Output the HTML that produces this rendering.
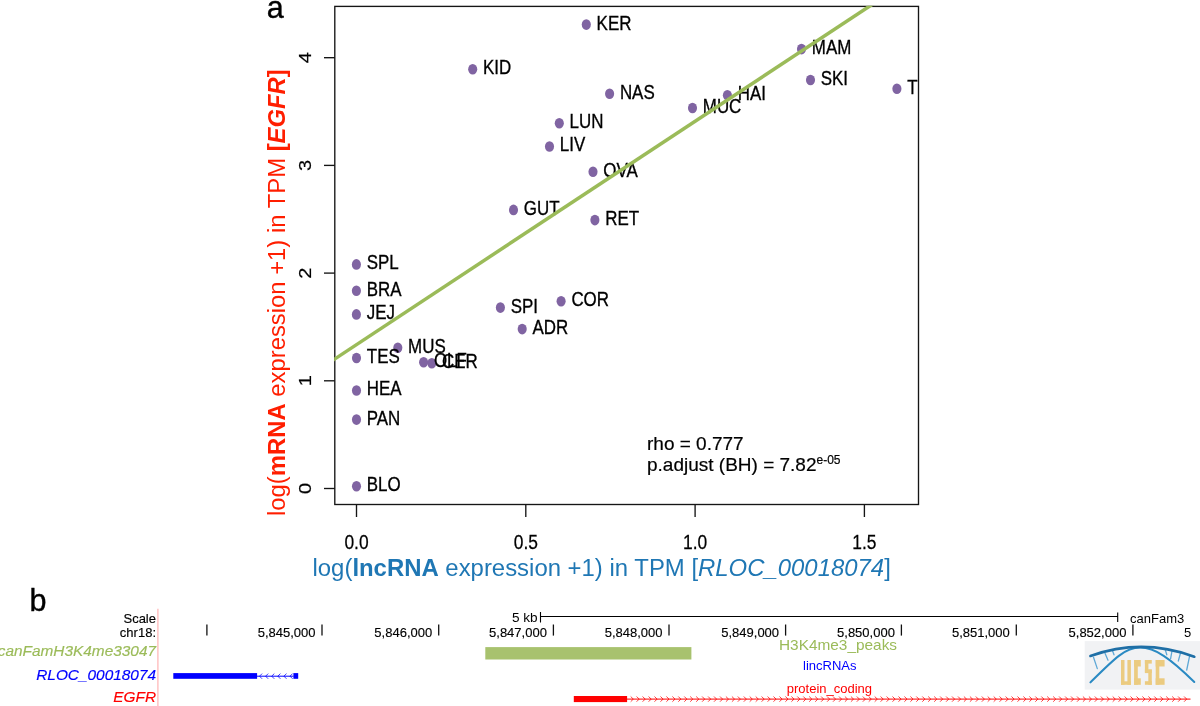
<!DOCTYPE html><html><head><meta charset="utf-8"><style>html,body{margin:0;padding:0;background:#fff;width:1200px;height:706px;overflow:hidden}svg{position:absolute;left:0;top:0;will-change:transform}</style></head><body>
<svg width="1200" height="706" viewBox="0 0 1200 706" font-family="Liberation Sans, sans-serif">
<defs><clipPath id="pc"><rect x="334.8" y="6.4" width="583.7" height="498.1"/></clipPath></defs>
<defs><clipPath id="pc2"><rect x="334.2" y="5.7" width="585" height="499.5"/></clipPath></defs>
<text x="266.8" y="17.6" font-size="30.5" stroke="#000" stroke-width="0.4">a</text>
<rect x="334.8" y="6.4" width="583.7" height="498.1" fill="none" stroke="#151515" stroke-width="1.35"/>
<line x1="324" y1="488.5" x2="334.8" y2="488.5" stroke="#151515" stroke-width="1.35"/>
<text transform="translate(310.6,488.5) scale(0.87,1) rotate(-90)" text-anchor="middle" font-size="20" stroke="#000" stroke-width="0.25">0</text>
<line x1="324" y1="380.8" x2="334.8" y2="380.8" stroke="#151515" stroke-width="1.35"/>
<text transform="translate(310.6,380.8) scale(0.87,1) rotate(-90)" text-anchor="middle" font-size="20" stroke="#000" stroke-width="0.25">1</text>
<line x1="324" y1="273.1" x2="334.8" y2="273.1" stroke="#151515" stroke-width="1.35"/>
<text transform="translate(310.6,273.1) scale(0.87,1) rotate(-90)" text-anchor="middle" font-size="20" stroke="#000" stroke-width="0.25">2</text>
<line x1="324" y1="165.4" x2="334.8" y2="165.4" stroke="#151515" stroke-width="1.35"/>
<text transform="translate(310.6,165.4) scale(0.87,1) rotate(-90)" text-anchor="middle" font-size="20" stroke="#000" stroke-width="0.25">3</text>
<line x1="324" y1="57.7" x2="334.8" y2="57.7" stroke="#151515" stroke-width="1.35"/>
<text transform="translate(310.6,57.7) scale(0.87,1) rotate(-90)" text-anchor="middle" font-size="20" stroke="#000" stroke-width="0.25">4</text>
<line x1="356.5" y1="504.5" x2="356.5" y2="517" stroke="#151515" stroke-width="1.35"/>
<text transform="translate(356.5,549.1) scale(0.87,1)" text-anchor="middle" font-size="20" stroke="#000" stroke-width="0.25">0.0</text>
<line x1="525.8" y1="504.5" x2="525.8" y2="517" stroke="#151515" stroke-width="1.35"/>
<text transform="translate(525.8,549.1) scale(0.87,1)" text-anchor="middle" font-size="20" stroke="#000" stroke-width="0.25">0.5</text>
<line x1="695.1" y1="504.5" x2="695.1" y2="517" stroke="#151515" stroke-width="1.35"/>
<text transform="translate(695.1,549.1) scale(0.87,1)" text-anchor="middle" font-size="20" stroke="#000" stroke-width="0.25">1.0</text>
<line x1="864.4" y1="504.5" x2="864.4" y2="517" stroke="#151515" stroke-width="1.35"/>
<text transform="translate(864.4,549.1) scale(0.87,1)" text-anchor="middle" font-size="20" stroke="#000" stroke-width="0.25">1.5</text>
<g fill="#8064a2">
<ellipse cx="586.3" cy="24.6" rx="4.55" ry="5.3"/>
<ellipse cx="472.7" cy="69.2" rx="4.55" ry="5.3"/>
<ellipse cx="609.6" cy="93.8" rx="4.55" ry="5.3"/>
<ellipse cx="559.3" cy="123.2" rx="4.55" ry="5.3"/>
<ellipse cx="549.5" cy="146.5" rx="4.55" ry="5.3"/>
<ellipse cx="593.0" cy="171.7" rx="4.55" ry="5.3"/>
<ellipse cx="513.5" cy="209.9" rx="4.55" ry="5.3"/>
<ellipse cx="594.9" cy="220.1" rx="4.55" ry="5.3"/>
<ellipse cx="801.5" cy="49.1" rx="4.55" ry="5.3"/>
<ellipse cx="810.5" cy="80.0" rx="4.55" ry="5.3"/>
<ellipse cx="727.4" cy="95.2" rx="4.55" ry="5.3"/>
<ellipse cx="692.5" cy="108.0" rx="4.55" ry="5.3"/>
<ellipse cx="896.9" cy="88.7" rx="4.55" ry="5.3"/>
<ellipse cx="356.4" cy="264.4" rx="4.55" ry="5.3"/>
<ellipse cx="356.4" cy="290.8" rx="4.55" ry="5.3"/>
<ellipse cx="356.4" cy="314.4" rx="4.55" ry="5.3"/>
<ellipse cx="500.4" cy="307.6" rx="4.55" ry="5.3"/>
<ellipse cx="561.1" cy="301.2" rx="4.55" ry="5.3"/>
<ellipse cx="522.2" cy="329.1" rx="4.55" ry="5.3"/>
<ellipse cx="397.8" cy="347.7" rx="4.55" ry="5.3"/>
<ellipse cx="356.5" cy="358.0" rx="4.55" ry="5.3"/>
<ellipse cx="423.6" cy="362.3" rx="4.55" ry="5.3"/>
<ellipse cx="431.8" cy="363.3" rx="4.55" ry="5.3"/>
<ellipse cx="356.5" cy="390.5" rx="4.55" ry="5.3"/>
<ellipse cx="356.5" cy="419.6" rx="4.55" ry="5.3"/>
<ellipse cx="356.5" cy="486.2" rx="4.55" ry="5.3"/>
</g>
<g clip-path="url(#pc)" font-size="20.4" stroke="#000" stroke-width="0.35">
<text transform="translate(596.6,29.5) scale(0.830,1)">KER</text>
<text transform="translate(483.0,74.1) scale(0.830,1)">KID</text>
<text transform="translate(619.9,98.7) scale(0.830,1)">NAS</text>
<text transform="translate(569.6,128.1) scale(0.830,1)">LUN</text>
<text transform="translate(559.8,151.4) scale(0.830,1)">LIV</text>
<text transform="translate(603.3,176.6) scale(0.830,1)">OVA</text>
<text transform="translate(523.8,214.8) scale(0.830,1)">GUT</text>
<text transform="translate(605.2,225.0) scale(0.830,1)">RET</text>
<text transform="translate(811.8,54.0) scale(0.830,1)">MAM</text>
<text transform="translate(820.8,84.9) scale(0.830,1)">SKI</text>
<text transform="translate(737.7,100.1) scale(0.830,1)">HAI</text>
<text transform="translate(702.8,112.9) scale(0.830,1)">MUC</text>
<text transform="translate(907.2,93.6) scale(0.830,1)">T</text>
<text transform="translate(366.7,269.3) scale(0.830,1)">SPL</text>
<text transform="translate(366.7,295.7) scale(0.830,1)">BRA</text>
<text transform="translate(366.7,319.3) scale(0.830,1)">JEJ</text>
<text transform="translate(510.7,312.5) scale(0.830,1)">SPI</text>
<text transform="translate(571.4,306.1) scale(0.830,1)">COR</text>
<text transform="translate(532.5,334.0) scale(0.830,1)">ADR</text>
<text transform="translate(408.1,352.6) scale(0.830,1)">MUS</text>
<text transform="translate(366.8,362.9) scale(0.830,1)">TES</text>
<text transform="translate(433.9,367.2) scale(0.830,1)">OLF</text>
<text transform="translate(442.1,368.2) scale(0.830,1)">CER</text>
<text transform="translate(366.8,395.4) scale(0.830,1)">HEA</text>
<text transform="translate(366.8,424.5) scale(0.830,1)">PAN</text>
<text transform="translate(366.8,491.1) scale(0.830,1)">BLO</text>
</g>
<line x1="330" y1="362.13" x2="875" y2="2.6" stroke="#9bbb59" stroke-width="3.5" clip-path="url(#pc2)"/>
<text x="647" y="449.5" font-size="19" stroke="#000" stroke-width="0.2">rho = 0.777</text>
<text x="647" y="471.4" font-size="19" stroke="#000" stroke-width="0.2">p.adjust (BH) = 7.82<tspan font-size="12" dy="-7">e-05</tspan></text>
<text x="312.5" y="575.9" font-size="23.92" fill="#1f77b4">log(<tspan font-weight="bold">lncRNA</tspan> expression +1) in TPM [<tspan font-style="italic">RLOC_00018074</tspan>]</text>
<text transform="translate(285,516) rotate(-90)" font-size="23.85" fill="#ff1e00">log(<tspan font-weight="bold">mRNA</tspan> expression +1) in TPM <tspan font-weight="bold">[<tspan font-style="italic">EGFR</tspan>]</tspan></text>
<text x="29.4" y="611.4" font-size="30.5" stroke="#000" stroke-width="0.4">b</text>
<line x1="157.9" y1="608.7" x2="157.9" y2="706" stroke="#ffb8b8" stroke-width="1.3"/>
<g font-size="13" text-anchor="end" stroke-width="0.15">
<text x="156" y="623" stroke="#000">Scale</text><text x="156" y="636.5" stroke="#000">chr18:</text>
<text transform="translate(156,655.7) scale(1.1,1)" font-size="14" font-style="italic" fill="#9bbb59" stroke="#9bbb59">canFamH3K4me33047</text>
<text transform="translate(156,680.3) scale(1.1,1)" font-size="14" font-style="italic" fill="#0000ff" stroke="#0000ff">RLOC_00018074</text>
<text transform="translate(156,702.2) scale(1.1,1)" font-size="14" font-style="italic" fill="#ff0000" stroke="#ff0000">EGFR</text>
</g>
<text x="537.6" y="622.3" font-size="13.6" text-anchor="end">5 kb</text>
<path d="M540.5 612V622.5M540.5 616.5H1117.7M1117.7 612.5V622" stroke="#000" stroke-width="1.1" fill="none"/>
<text x="1130" y="622.8" font-size="13">canFam3</text>
<line x1="206.9" y1="624.5" x2="206.9" y2="635.6" stroke="#111" stroke-width="1.3"/>
<line x1="322.0" y1="624.5" x2="322.0" y2="635.6" stroke="#111" stroke-width="1.3"/>
<text x="315.5" y="636.7" font-size="13" text-anchor="end" stroke="#000" stroke-width="0.15">5,845,000</text>
<line x1="438.7" y1="624.5" x2="438.7" y2="635.6" stroke="#111" stroke-width="1.3"/>
<text x="432.2" y="636.7" font-size="13" text-anchor="end" stroke="#000" stroke-width="0.15">5,846,000</text>
<line x1="553.4" y1="624.5" x2="553.4" y2="635.6" stroke="#111" stroke-width="1.3"/>
<text x="546.9" y="636.7" font-size="13" text-anchor="end" stroke="#000" stroke-width="0.15">5,847,000</text>
<line x1="669.0" y1="624.5" x2="669.0" y2="635.6" stroke="#111" stroke-width="1.3"/>
<text x="662.5" y="636.7" font-size="13" text-anchor="end" stroke="#000" stroke-width="0.15">5,848,000</text>
<line x1="785.6" y1="624.5" x2="785.6" y2="635.6" stroke="#111" stroke-width="1.3"/>
<text x="779.1" y="636.7" font-size="13" text-anchor="end" stroke="#000" stroke-width="0.15">5,849,000</text>
<line x1="901.4" y1="624.5" x2="901.4" y2="635.6" stroke="#111" stroke-width="1.3"/>
<text x="894.9" y="636.7" font-size="13" text-anchor="end" stroke="#000" stroke-width="0.15">5,850,000</text>
<line x1="1016.3" y1="624.5" x2="1016.3" y2="635.6" stroke="#111" stroke-width="1.3"/>
<text x="1009.8" y="636.7" font-size="13" text-anchor="end" stroke="#000" stroke-width="0.15">5,851,000</text>
<line x1="1132.9" y1="624.5" x2="1132.9" y2="635.6" stroke="#111" stroke-width="1.3"/>
<text x="1126.4" y="636.7" font-size="13" text-anchor="end" stroke="#000" stroke-width="0.15">5,852,000</text>
<text x="1184" y="636.7" font-size="13">5</text>
<rect x="485.3" y="647.1" width="206.1" height="12.4" fill="#a8c26e"/>
<text transform="translate(779,650) scale(1.1,1)" font-size="14" fill="#9bbb59">H3K4me3_peaks</text>
<text x="803" y="670" font-size="13" fill="#0000ff">lincRNAs</text>
<text x="786.8" y="693.4" font-size="13" fill="#ff0000">protein_coding</text>
<rect x="173.3" y="673.1" width="83.8" height="5.7" fill="#0000ff"/>
<rect x="293.4" y="673.1" width="4.8" height="5.7" fill="#0000ff"/>
<line x1="257" y1="676.2" x2="293.5" y2="676.2" stroke="#0000ff" stroke-width="1"/>
<path d="M262.1 673.6L259.5 676.2L262.1 678.8M268.2 673.6L265.6 676.2L268.2 678.8M274.3 673.6L271.7 676.2L274.3 678.8M280.4 673.6L277.8 676.2L280.4 678.8M286.5 673.6L283.9 676.2L286.5 678.8M292.6 673.6L290.0 676.2L292.6 678.8" stroke="#0000ff" stroke-width="0.9" fill="none" opacity="0.85"/>
<rect x="573.8" y="696" width="53.3" height="6.1" fill="#ff0000"/>
<line x1="627" y1="699.1" x2="1190.5" y2="699.1" stroke="#ff0000" stroke-width="1"/>
<path d="M630.7 696.5L633.3 699.1L630.7 701.7M636.6 696.5L639.2 699.1L636.6 701.7M642.6 696.5L645.2 699.1L642.6 701.7M648.6 696.5L651.2 699.1L648.6 701.7M654.5 696.5L657.1 699.1L654.5 701.7M660.5 696.5L663.1 699.1L660.5 701.7M666.4 696.5L669.0 699.1L666.4 701.7M672.4 696.5L675.0 699.1L672.4 701.7M678.3 696.5L680.9 699.1L678.3 701.7M684.3 696.5L686.9 699.1L684.3 701.7M690.2 696.5L692.8 699.1L690.2 701.7M696.2 696.5L698.8 699.1L696.2 701.7M702.1 696.5L704.7 699.1L702.1 701.7M708.1 696.5L710.7 699.1L708.1 701.7M714.0 696.5L716.6 699.1L714.0 701.7M720.0 696.5L722.6 699.1L720.0 701.7M725.9 696.5L728.5 699.1L725.9 701.7M731.9 696.5L734.5 699.1L731.9 701.7M737.8 696.5L740.4 699.1L737.8 701.7M743.8 696.5L746.4 699.1L743.8 701.7M749.7 696.5L752.3 699.1L749.7 701.7M755.7 696.5L758.3 699.1L755.7 701.7M761.6 696.5L764.2 699.1L761.6 701.7M767.6 696.5L770.2 699.1L767.6 701.7M773.5 696.5L776.1 699.1L773.5 701.7M779.5 696.5L782.1 699.1L779.5 701.7M785.4 696.5L788.0 699.1L785.4 701.7M791.4 696.5L794.0 699.1L791.4 701.7M797.3 696.5L799.9 699.1L797.3 701.7M803.3 696.5L805.9 699.1L803.3 701.7M809.2 696.5L811.8 699.1L809.2 701.7M815.2 696.5L817.8 699.1L815.2 701.7M821.1 696.5L823.7 699.1L821.1 701.7M827.1 696.5L829.7 699.1L827.1 701.7M833.0 696.5L835.6 699.1L833.0 701.7M839.0 696.5L841.6 699.1L839.0 701.7M844.9 696.5L847.5 699.1L844.9 701.7M850.9 696.5L853.5 699.1L850.9 701.7M856.8 696.5L859.4 699.1L856.8 701.7M862.8 696.5L865.4 699.1L862.8 701.7M868.7 696.5L871.3 699.1L868.7 701.7M874.7 696.5L877.3 699.1L874.7 701.7M880.6 696.5L883.2 699.1L880.6 701.7M886.6 696.5L889.2 699.1L886.6 701.7M892.5 696.5L895.1 699.1L892.5 701.7M898.5 696.5L901.1 699.1L898.5 701.7M904.4 696.5L907.0 699.1L904.4 701.7M910.4 696.5L913.0 699.1L910.4 701.7M916.3 696.5L918.9 699.1L916.3 701.7M922.3 696.5L924.9 699.1L922.3 701.7M928.2 696.5L930.8 699.1L928.2 701.7M934.2 696.5L936.8 699.1L934.2 701.7M940.1 696.5L942.7 699.1L940.1 701.7M946.1 696.5L948.7 699.1L946.1 701.7M952.0 696.5L954.6 699.1L952.0 701.7M958.0 696.5L960.6 699.1L958.0 701.7M963.9 696.5L966.5 699.1L963.9 701.7M969.9 696.5L972.5 699.1L969.9 701.7M975.8 696.5L978.4 699.1L975.8 701.7M981.8 696.5L984.4 699.1L981.8 701.7M987.7 696.5L990.3 699.1L987.7 701.7M993.7 696.5L996.3 699.1L993.7 701.7M999.6 696.5L1002.2 699.1L999.6 701.7M1005.6 696.5L1008.2 699.1L1005.6 701.7M1011.5 696.5L1014.1 699.1L1011.5 701.7M1017.5 696.5L1020.1 699.1L1017.5 701.7M1023.4 696.5L1026.0 699.1L1023.4 701.7M1029.4 696.5L1032.0 699.1L1029.4 701.7M1035.3 696.5L1037.9 699.1L1035.3 701.7M1041.3 696.5L1043.9 699.1L1041.3 701.7M1047.2 696.5L1049.8 699.1L1047.2 701.7M1053.2 696.5L1055.8 699.1L1053.2 701.7M1059.1 696.5L1061.7 699.1L1059.1 701.7M1065.1 696.5L1067.7 699.1L1065.1 701.7M1071.0 696.5L1073.6 699.1L1071.0 701.7M1077.0 696.5L1079.6 699.1L1077.0 701.7M1082.9 696.5L1085.5 699.1L1082.9 701.7M1088.9 696.5L1091.5 699.1L1088.9 701.7M1094.8 696.5L1097.4 699.1L1094.8 701.7M1100.8 696.5L1103.4 699.1L1100.8 701.7M1106.7 696.5L1109.3 699.1L1106.7 701.7M1112.7 696.5L1115.3 699.1L1112.7 701.7M1118.6 696.5L1121.2 699.1L1118.6 701.7M1124.6 696.5L1127.2 699.1L1124.6 701.7M1130.5 696.5L1133.1 699.1L1130.5 701.7M1136.5 696.5L1139.1 699.1L1136.5 701.7M1142.4 696.5L1145.0 699.1L1142.4 701.7M1148.4 696.5L1151.0 699.1L1148.4 701.7M1154.3 696.5L1156.9 699.1L1154.3 701.7M1160.3 696.5L1162.9 699.1L1160.3 701.7M1166.2 696.5L1168.8 699.1L1166.2 701.7M1172.2 696.5L1174.8 699.1L1172.2 701.7M1178.1 696.5L1180.7 699.1L1178.1 701.7M1184.1 696.5L1186.7 699.1L1184.1 701.7" stroke="#ff0000" stroke-width="0.9" fill="none" opacity="0.85"/>
<rect x="1084.7" y="641.1" width="116" height="48.5" fill="#f1f2f4"/>
<g fill="#ebcb80"><rect x="1121.0" y="660.0" width="3.5" height="24.8"/><rect x="1127.4" y="660.0" width="3.5" height="24.8"/><rect x="1121.0" y="681.3" width="9.9" height="3.5"/><rect x="1134.1" y="660.0" width="3.7" height="24.8"/><rect x="1134.1" y="660.0" width="6.7" height="6.5"/><rect x="1134.1" y="678.3" width="6.7" height="6.5"/><rect x="1144.9" y="660.0" width="6.9" height="3.6"/><rect x="1144.9" y="660.0" width="3.5" height="12.5"/><rect x="1144.9" y="669.5" width="6.9" height="3.6"/><rect x="1148.3" y="669.5" width="3.5" height="15.3"/><rect x="1144.9" y="681.2" width="6.9" height="3.6"/><rect x="1155.7" y="660.0" width="3.6" height="24.8"/><rect x="1155.7" y="660.0" width="8.9" height="6.5"/><rect x="1155.7" y="678.3" width="8.9" height="6.5"/></g>
<g fill="none" stroke-linecap="round">
<path d="M1093.5 657.3L1097.3 668.6M1105 653.3L1108 660.2M1112.6 651L1114 654.8M1165.2 649.5L1166.8 654.8M1172 651L1170.6 658.7M1180.5 653L1178.3 661M1189.7 655.6L1186.7 670" stroke="#5fa8d6" stroke-width="1.3"/>
<path d="M1090.4 682.4C1115 658 1125 647.8 1140 647.6C1155 647.6 1170 658 1194.3 682" stroke="#2a8ac3" stroke-width="2"/>
<path d="M1090.4 656Q1142 637.5 1194.3 656.7" stroke="#1f6fa6" stroke-width="2.6"/>
</g>
</svg></body></html>
